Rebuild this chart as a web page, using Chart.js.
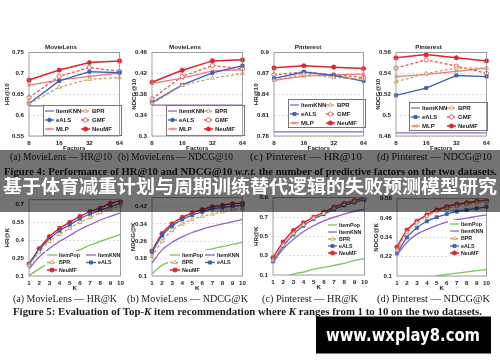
<!DOCTYPE html>
<html><head><meta charset="utf-8">
<script src="https://cdn.jsdelivr.net/npm/chart.js@4.4.1/dist/chart.umd.min.js"></script>
<style>
html,body{margin:0;padding:0;background:#fff;}
#stage{position:relative;width:500px;height:362px;overflow:hidden;background:#fff;}
.cw{position:absolute;}
#ov{position:absolute;left:0;top:0;}
</style></head><body>
<div id="stage">
<svg id="ov" width="500" height="362" xmlns="http://www.w3.org/2000/svg">
  <g font-family="Liberation Serif, DejaVu Serif, serif" fill="#1a1a1a">
    <text x="10" y="159.5" font-size="10.5" textLength="102" lengthAdjust="spacingAndGlyphs">(a) MovieLens — HR@10</text>
    <text x="118" y="159.5" font-size="10.5" textLength="115" lengthAdjust="spacingAndGlyphs">(b) MovieLens — NDCG@10</text>
    <text x="250" y="159.5" font-size="10.5" textLength="112" lengthAdjust="spacingAndGlyphs">(c) Pinterest — HR@10</text>
    <text x="377" y="159.5" font-size="10.5" textLength="115" lengthAdjust="spacingAndGlyphs">(d) Pinterest — NDCG@10</text>
    <text x="4" y="174.5" font-size="10" font-weight="bold" textLength="493" lengthAdjust="spacingAndGlyphs">Figure 4: Performance of HR@10 and NDCG@10 <tspan font-style="italic">w.r.t.</tspan> the number of predictive factors on the two datasets.</text>
    <text x="13" y="301.5" font-size="10.5" textLength="104" lengthAdjust="spacingAndGlyphs">(a) MovieLens — HR@K</text>
    <text x="127" y="301.5" font-size="10.5" textLength="121" lengthAdjust="spacingAndGlyphs">(b) MovieLens — NDCG@K</text>
    <text x="262" y="301.5" font-size="10.5" textLength="96" lengthAdjust="spacingAndGlyphs">(c) Pinterest — HR@K</text>
    <text x="377" y="301.5" font-size="10.5" textLength="113" lengthAdjust="spacingAndGlyphs">(d) Pinterest — NDCG@K</text>
    <text x="13" y="315" font-size="10" font-weight="bold" textLength="469" lengthAdjust="spacingAndGlyphs">Figure 5: Evaluation of Top-<tspan font-style="italic">K</tspan> item recommendation where <tspan font-style="italic">K</tspan> ranges from 1 to 10 on the two datasets.</text>
  </g>
  <rect x="0" y="150" width="500" height="62" fill="rgba(0,0,0,0.55)"/>
  <text x="3" y="193" font-family="Noto Sans CJK SC" font-weight="bold" font-size="18.5" fill="#fff" textLength="494" lengthAdjust="spacingAndGlyphs">基于体育减重计划与周期训练替代逻辑的失败预测模型研究</text>
  <rect x="316" y="316.5" width="175" height="37" fill="#000"/>
  <text x="326" y="341" font-family="DejaVu Sans, Liberation Sans, sans-serif" font-weight="bold" font-size="18" fill="#fff" textLength="154" lengthAdjust="spacingAndGlyphs">www.wxplay8.com</text>
</svg>
</div>
<script>
// ---------- categories ----------
const factorLabels = ['8', '16', '32', '64'];
const kLabels = ['1', '2', '3', '4', '5', '6', '7', '8', '9', '10'];

// ---------- tick values ----------
const mlHr10Ticks = [0.55, 0.6, 0.65, 0.7, 0.75];
const mlNdcg10Ticks = [0.3, 0.34, 0.38, 0.42, 0.46];
const pHr10Ticks = [0.78, 0.81, 0.84, 0.87, 0.9];
const pNdcg10Ticks = [0.48, 0.5, 0.52, 0.54, 0.56];
const mlHrKTicks = [0.1, 0.25, 0.4, 0.55, 0.7];
const mlNdcgKTicks = [0.1, 0.18, 0.26, 0.34, 0.42];
const pHrKTicks = [0.1, 0.3, 0.5, 0.7, 0.9];
const pNdcgKTicks = [0.1, 0.22, 0.34, 0.46, 0.58];

// ---------- (a) MovieLens HR@10 ----------
const mlHr10ItemKNN = [0.622, 0.622, 0.622, 0.622];
const mlHr10eALS = [0.628, 0.682, 0.704, 0.702];
const mlHr10BPR = [0.627, 0.667, 0.686, 0.690];
const mlHr10GMF = [0.642, 0.693, 0.714, 0.705];
const mlHr10MLP = [0.672, 0.684, 0.693, 0.701];
const mlHr10NeuMF = [0.684, 0.708, 0.726, 0.730];

// ---------- (b) MovieLens NDCG@10 ----------
const mlNdcg10ItemKNN = [0.359, 0.359, 0.359, 0.359];
const mlNdcg10eALS = [0.364, 0.398, 0.421, 0.435];
const mlNdcg10BPR = [0.362, 0.397, 0.411, 0.420];
const mlNdcg10GMF = [0.371, 0.414, 0.435, 0.429];
const mlNdcg10MLP = [0.401, 0.411, 0.425, 0.427];
const mlNdcg10NeuMF = [0.403, 0.426, 0.444, 0.446];

// ---------- (c) Pinterest HR@10 ----------
const pHr10ItemKNN = [0.786, 0.786, 0.786, 0.786];
const pHr10eALS = [0.863, 0.872, 0.867, 0.859];
const pHr10BPR = [0.860, 0.869, 0.864, 0.862];
const pHr10GMF = [0.868, 0.872, 0.868, 0.864];
const pHr10MLP = [0.860, 0.866, 0.868, 0.869];
const pHr10NeuMF = [0.878, 0.881, 0.879, 0.877];

// ---------- (d) Pinterest NDCG@10 ----------
const pNdcg10ItemKNN = [0.483, 0.483, 0.483, 0.483];
const pNdcg10eALS = [0.519, 0.526, 0.538, 0.537];
const pNdcg10BPR = [0.532, 0.540, 0.545, 0.545];
const pNdcg10GMF = [0.545, 0.553, 0.547, 0.540];
const pNdcg10MLP = [0.537, 0.539, 0.542, 0.545];
const pNdcg10NeuMF = [0.555, 0.558, 0.555, 0.552];

// ---------- Fig5 (a) MovieLens HR@K ----------
const mlHrKItemPop = [0.105, 0.16, 0.21, 0.25, 0.29, 0.32, 0.36, 0.39, 0.42, 0.45];
const mlHrKItemKNN = [0.16, 0.26, 0.33, 0.39, 0.44, 0.49, 0.53, 0.57, 0.60, 0.63];
const mlHrKBPR = [0.19, 0.30, 0.39, 0.45, 0.50, 0.55, 0.59, 0.63, 0.66, 0.69];
const mlHrKeALS = [0.20, 0.32, 0.41, 0.48, 0.53, 0.58, 0.62, 0.65, 0.68, 0.71];
const mlHrKNeuMF = [0.20, 0.33, 0.43, 0.50, 0.55, 0.60, 0.64, 0.67, 0.71, 0.73];

// ---------- Fig5 (b) MovieLens NDCG@K ----------
const mlNdcgKItemPop = [0.11, 0.15, 0.17, 0.19, 0.205, 0.215, 0.225, 0.235, 0.245, 0.255];
const mlNdcgKItemKNN = [0.16, 0.22, 0.255, 0.28, 0.30, 0.315, 0.328, 0.34, 0.35, 0.36];
const mlNdcgKBPR = [0.19, 0.26, 0.31, 0.34, 0.36, 0.375, 0.385, 0.395, 0.405, 0.41];
const mlNdcgKeALS = [0.21, 0.285, 0.33, 0.36, 0.38, 0.395, 0.41, 0.415, 0.42, 0.425];
const mlNdcgKNeuMF = [0.215, 0.295, 0.34, 0.37, 0.39, 0.405, 0.418, 0.425, 0.432, 0.435];

// ---------- Fig5 (c) Pinterest HR@K ----------
const pHrKItemPop = [0.04, 0.07, 0.11, 0.13, 0.16, 0.18, 0.20, 0.22, 0.25, 0.27];
const pHrKItemKNN = [0.23, 0.37, 0.47, 0.55, 0.61, 0.66, 0.70, 0.73, 0.76, 0.78];
const pHrKBPR = [0.25, 0.41, 0.53, 0.62, 0.69, 0.74, 0.79, 0.83, 0.86, 0.89];
const pHrKeALS = [0.24, 0.40, 0.52, 0.61, 0.68, 0.73, 0.78, 0.82, 0.85, 0.88];
const pHrKNeuMF = [0.28, 0.44, 0.56, 0.64, 0.70, 0.75, 0.80, 0.84, 0.87, 0.90];

// ---------- Fig5 (d) Pinterest NDCG@K ----------
const pNdcgKItemPop = [0.04, 0.06, 0.075, 0.09, 0.10, 0.11, 0.118, 0.125, 0.133, 0.14];
const pNdcgKItemKNN = [0.23, 0.31, 0.36, 0.39, 0.415, 0.435, 0.45, 0.46, 0.47, 0.48];
const pNdcgKBPR = [0.26, 0.37, 0.43, 0.47, 0.50, 0.52, 0.535, 0.545, 0.555, 0.56];
const pNdcgKeALS = [0.24, 0.34, 0.40, 0.44, 0.465, 0.485, 0.50, 0.51, 0.52, 0.53];
const pNdcgKNeuMF = [0.28, 0.385, 0.44, 0.48, 0.51, 0.53, 0.545, 0.555, 0.565, 0.57];

// ---------- styles ----------
const STY = {
  ItemPop: {c: '#7cc35a', dash: [], ps: false},
  ItemKNN: {c: '#9062c4', dash: [], ps: false},
  BPR: {c: '#c9a06c', dash: [3, 2], ps: 'triangle', fill: '#ffffff', r: 2.3, bw: 0.9},
  eALS: {c: '#3d5fb5', dash: [], ps: 'rect', fill: '#3d5fb5', r: 2.2, bw: 0.8},
  GMF: {c: '#e4585c', dash: [3, 2], ps: 'circle', fill: '#ffffff', r: 2.1, bw: 0.9},
  MLP: {c: '#e87a7c', dash: [], ps: 'crossRot', fill: '#e87a7c', r: 2.3, bw: 1},
  NeuMF: {c: '#e0252c', dash: [], ps: 'star', fill: '#e0252c', r: 2.6, bw: 1.3}
};

Chart.defaults.font.family = 'Liberation Sans, Arial, sans-serif';
Chart.defaults.color = '#222';

const FONT = {size: 6.2, weight: 'bold'};
const fmt = v => String(Number(v.toFixed(3)));

const boxLegend = {
  id: 'boxLegend',
  afterDatasetsDraw(chart, args, o) {
    if (!o || !o.rect) return;
    const ctx = chart.ctx;
    const [x0, y0, x1, y1] = o.rect;
    ctx.save();
    ctx.fillStyle = '#fff';
    ctx.fillRect(x0, y0, x1 - x0, y1 - y0);
    if (o.border) {
      ctx.strokeStyle = '#555';
      ctx.lineWidth = 0.8;
      ctx.strokeRect(x0 + 0.4, y0 + 0.4, x1 - x0 - 0.8, y1 - y0 - 0.8);
    }
    o.items.forEach(it => {
      const ds = chart.data.datasets.find(d => d.label === it.name);
      ctx.strokeStyle = ds.borderColor;
      ctx.lineWidth = ds.borderWidth;
      ctx.setLineDash(ds.borderDash || []);
      ctx.beginPath();
      ctx.moveTo(it.x, it.y);
      ctx.lineTo(it.x + o.sw, it.y);
      ctx.stroke();
      ctx.setLineDash([]);
      if (ds.pointStyle) {
        ctx.fillStyle = ds.pointBackgroundColor;
        ctx.strokeStyle = ds.pointBorderColor;
        ctx.lineWidth = ds.pointBorderWidth;
        Chart.helpers.drawPoint(ctx, {pointStyle: ds.pointStyle, radius: ds.pointRadius, rotation: 0, borderWidth: ds.pointBorderWidth}, it.x + o.sw / 2, it.y);
      }
      ctx.fillStyle = '#222';
      ctx.font = 'bold ' + o.font + 'px Liberation Sans, Arial, sans-serif';
      ctx.textBaseline = 'middle';
      ctx.textAlign = 'left';
      ctx.fillText(ds.label, it.x + o.sw + 2, it.y + 0.3);
    });
    ctx.restore();
  }
};

const frame = {
  id: 'frame',
  afterDraw(chart) {
    const a = chart.chartArea, ctx = chart.ctx;
    ctx.save();
    ctx.strokeStyle = '#8a8a8a';
    ctx.lineWidth = 0.8;
    ctx.strokeRect(a.left, a.top, a.right - a.left, a.bottom - a.top);
    ctx.restore();
  }
};

const stage = document.getElementById('stage');
const ov = document.getElementById('ov');

function makeChart(sp) {
  const [L, T, W, H] = sp.box;
  const div = document.createElement('div');
  div.className = 'cw';
  div.style.left = L + 'px';
  div.style.top = T + 'px';
  div.style.width = W + 'px';
  div.style.height = H + 'px';
  const cv = document.createElement('canvas');
  div.appendChild(cv);
  stage.insertBefore(div, ov);

  const lg = sp.legend;
  const items = [];
  lg.order.forEach((name, i) => {
    const col = i % lg.cols.length, row = Math.floor(i / lg.cols.length);
    items.push({name, x: lg.cols[col] - L, y: lg.rows[row] - T});
  });

  const datasets = sp.series.map(([name, data]) => {
    const s = STY[name];
    return {
      label: name, data,
      borderColor: s.c, backgroundColor: s.c,
      borderWidth: name === 'NeuMF' ? 1.5 : 1.3,
      borderDash: s.dash,
      tension: sp.tension,
      pointStyle: s.ps,
      pointRadius: s.ps ? s.r : 0,
      pointBackgroundColor: s.fill || s.c,
      pointBorderColor: s.c,
      pointBorderWidth: s.bw || 1,
      fill: false
    };
  });

  new Chart(cv, {
    type: 'line',
    data: {labels: sp.labels, datasets},
    plugins: [boxLegend, frame],
    options: {
      responsive: true, maintainAspectRatio: false, animation: false, devicePixelRatio: 1,
      events: [],
      layout: {padding: {top: sp.title ? 0 : 6, right: 5, left: 0, bottom: 0}},
      plugins: {
        legend: {display: false},
        tooltip: {enabled: false},
        title: sp.title ? {display: true, text: sp.title, font: FONT, color: '#222', padding: {top: 2, bottom: 1.1}} : {display: false},
        boxLegend: {rect: [lg.rect[0] - L, lg.rect[1] - T, lg.rect[2] - L, lg.rect[3] - T], border: lg.border, items, sw: lg.sw, font: lg.font}
      },
      scales: {
        x: {
          type: 'category', offset: false,
          grid: {display: false, drawTicks: false},
          border: {display: false},
          ticks: {font: FONT, color: '#222', padding: 4, maxRotation: 0, autoSkip: false},
          title: {display: true, text: sp.xTitle, font: FONT, color: '#222', padding: {top: 0, bottom: 0}},
          afterFit(s) { s.height = 16; }
        },
        y: {
          type: 'linear', min: sp.yMin, max: sp.yMax,
          grid: {color: '#cfcfcf', lineWidth: 0.7, drawTicks: false},
          border: {display: false, dash: [2, 2]},
          ticks: {font: FONT, color: '#222', padding: 5, callback: v => fmt(v)},
          title: {display: true, text: sp.yTitle, font: FONT, color: '#222', padding: {top: sp.yTitlePad, bottom: 0}},
          afterBuildTicks(s) { s.ticks = sp.yTicks.map(v => ({value: v})); },
          afterFit(s) { s.width = sp.yAxisW; }
        }
      }
    }
  });
}

const topOrder = ['ItemKNN', 'BPR', 'eALS', 'GMF', 'MLP', 'NeuMF'];
const botOrderML = ['ItemPop', 'ItemKNN', 'BPR', 'eALS', 'NeuMF'];

const specs = [
  {box: [0, 42, 127, 110], yAxisW: 29, yTitlePad: 3.4, title: 'MovieLens', yTitle: 'HR@10', xTitle: 'Factors',
   labels: factorLabels, yTicks: mlHr10Ticks, yMin: 0.55, yMax: 0.75, tension: 0,
   series: [['ItemKNN', mlHr10ItemKNN], ['BPR', mlHr10BPR], ['eALS', mlHr10eALS], ['GMF', mlHr10GMF], ['MLP', mlHr10MLP], ['NeuMF', mlHr10NeuMF]],
   legend: {rect: [43, 105, 122, 136], cols: [45, 81], rows: [111, 120, 129], sw: 9, font: 6, border: true, order: topOrder}},
  {box: [125, 42, 125, 110], yAxisW: 27, yTitlePad: 5.4, title: 'MovieLens', yTitle: 'NDCG@10', xTitle: 'Factors',
   labels: factorLabels, yTicks: mlNdcg10Ticks, yMin: 0.3, yMax: 0.46, tension: 0,
   series: [['ItemKNN', mlNdcg10ItemKNN], ['BPR', mlNdcg10BPR], ['eALS', mlNdcg10eALS], ['GMF', mlNdcg10GMF], ['MLP', mlNdcg10MLP], ['NeuMF', mlNdcg10NeuMF]],
   legend: {rect: [166, 105, 245, 136], cols: [168, 204], rows: [111, 120, 129], sw: 9, font: 6, border: true, order: topOrder}},
  {box: [250, 42, 121, 110], yAxisW: 24, yTitlePad: 2.4, title: 'Pinterest', yTitle: 'HR@10', xTitle: 'Factors',
   labels: factorLabels, yTicks: pHr10Ticks, yMin: 0.78, yMax: 0.9, tension: 0,
   series: [['ItemKNN', pHr10ItemKNN], ['BPR', pHr10BPR], ['eALS', pHr10eALS], ['GMF', pHr10GMF], ['MLP', pHr10MLP], ['NeuMF', pHr10NeuMF]],
   legend: {rect: [288, 99, 366, 128], cols: [290, 326], rows: [105, 114, 123], sw: 9, font: 6, border: true, order: topOrder}},
  {box: [368, 42, 126, 110], yAxisW: 28, yTitlePad: 6.4, title: 'Pinterest', yTitle: 'NDCG@10', xTitle: 'Factors',
   labels: factorLabels, yTicks: pNdcg10Ticks, yMin: 0.48, yMax: 0.56, tension: 0,
   series: [['ItemKNN', pNdcg10ItemKNN], ['BPR', pNdcg10BPR], ['eALS', pNdcg10eALS], ['GMF', pNdcg10GMF], ['MLP', pNdcg10MLP], ['NeuMF', pNdcg10NeuMF]],
   legend: {rect: [409, 102, 488, 131], cols: [411, 447], rows: [108, 117, 126], sw: 9, font: 6, border: true, order: topOrder}},

  {box: [0, 191, 128, 101], yAxisW: 29, yTitlePad: 3.4, title: null, yTitle: 'HR@K', xTitle: 'K',
   labels: kLabels, yTicks: mlHrKTicks, yMin: 0.1, yMax: 0.74, tension: 0.3,
   series: [['ItemPop', mlHrKItemPop], ['ItemKNN', mlHrKItemKNN], ['BPR', mlHrKBPR], ['eALS', mlHrKeALS], ['NeuMF', mlHrKNeuMF]],
   legend: {rect: [45, 251, 123, 276], cols: [47, 86], rows: [255, 262.5, 270], sw: 10, font: 5.3, border: false, order: botOrderML}},
  {box: [125, 189, 125, 103], yAxisW: 27, yTitlePad: 4.4, title: null, yTitle: 'NDCG@K', xTitle: 'K',
   labels: kLabels, yTicks: mlNdcgKTicks, yMin: 0.1, yMax: 0.46, tension: 0.3,
   series: [['ItemPop', mlNdcgKItemPop], ['ItemKNN', mlNdcgKItemKNN], ['BPR', mlNdcgKBPR], ['eALS', mlNdcgKeALS], ['NeuMF', mlNdcgKNeuMF]],
   legend: {rect: [168, 250, 245, 276], cols: [170, 205], rows: [255, 262.5, 270], sw: 10, font: 5.3, border: false, order: botOrderML}},
  {box: [250, 189, 122, 102], yAxisW: 23, yTitlePad: 2.4, title: null, yTitle: 'HR@K', xTitle: 'K',
   labels: kLabels, yTicks: pHrKTicks, yMin: 0.1, yMax: 0.9, tension: 0.3,
   series: [['ItemPop', pHrKItemPop], ['ItemKNN', pHrKItemKNN], ['BPR', pHrKBPR], ['eALS', pHrKeALS], ['NeuMF', pHrKNeuMF]],
   legend: {rect: [326, 221, 367, 257], cols: [328], rows: [225, 232, 239, 246, 253], sw: 9, font: 5.3, border: false, order: botOrderML}},
  {box: [368, 190, 126, 102], yAxisW: 29, yTitlePad: 4.4, title: null, yTitle: 'NDCG@K', xTitle: 'K',
   labels: kLabels, yTicks: pNdcgKTicks, yMin: 0.1, yMax: 0.58, tension: 0.3,
   series: [['ItemPop', pNdcgKItemPop], ['ItemKNN', pNdcgKItemKNN], ['BPR', pNdcgKBPR], ['eALS', pNdcgKeALS], ['NeuMF', pNdcgKNeuMF]],
   legend: {rect: [448, 220, 488, 257], cols: [450], rows: [224, 231, 238.5, 246, 253], sw: 9, font: 5.3, border: false, order: botOrderML}}
];

specs.forEach(makeChart);
</script>
</body></html>
